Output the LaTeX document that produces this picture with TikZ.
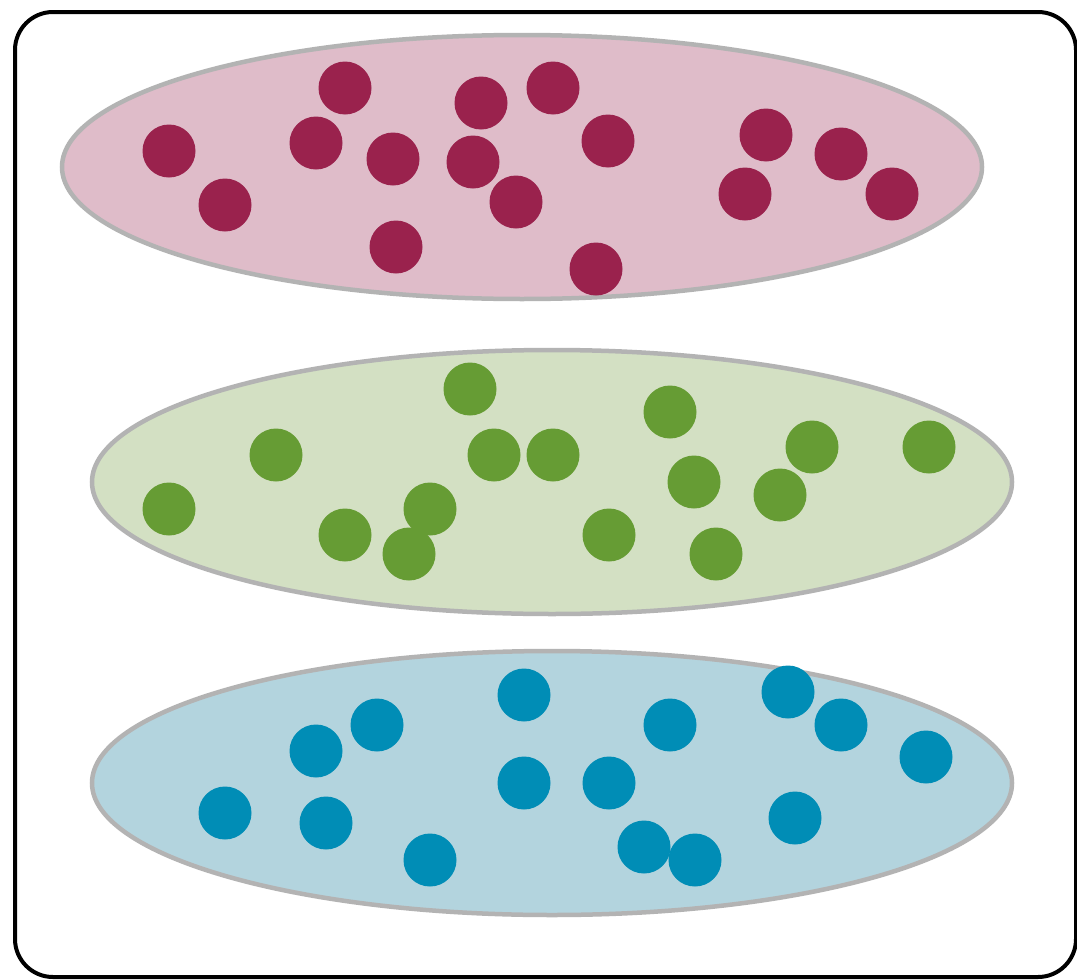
\documentclass[tikz,border=0pt]{standalone}
\definecolor{pinkfill}{HTML}{DFBCC9}
\definecolor{pinkdot}{HTML}{9A224D}
\definecolor{greenfill}{HTML}{D3E0C3}
\definecolor{greendot}{HTML}{669C34}
\definecolor{bluefill}{HTML}{B3D4DE}
\definecolor{bluedot}{HTML}{008DB6}
\definecolor{rimgray}{HTML}{B3B3B3}
\begin{document}
\begin{tikzpicture}[x=1pt,y=-1pt,
  group/.style={draw=rimgray,line width=4.5pt},
  dot/.style={circle,minimum size=53pt,inner sep=0pt}]
\useasboundingbox (0,0) rectangle (1077,980);
\fill[white] (0,0) rectangle (1077,980);
\draw[line width=4pt,rounded corners=38pt] (15,12) rectangle (1076,977);
\draw[group,fill=pinkfill] (522,167) ellipse [x radius=460, y radius=132];
\draw[group,fill=greenfill] (552,482) ellipse [x radius=460, y radius=132];
\draw[group,fill=bluefill] (552,783) ellipse [x radius=460, y radius=132];
\foreach \x/\y [count=\i] in {345/88,481/103,553/88,169/151,316/143,393/159,473/162,608/141,766/135,841/154,892/194,745/194,225/205,516/202,396/247,596/269}
  \node[dot,fill=pinkdot] (p\i) at (\x,\y) {};
\foreach \x/\y [count=\i] in {470/389,670/412,276/455,494/455,553/455,812/447,929/447,169/509,430/509,694/482,780/495,345/535,409/554,609/535,716/554}
  \node[dot,fill=greendot] (g\i) at (\x,\y) {};
\foreach \x/\y [count=\i] in {524/695,788/692,377/725,670/725,841/725,316/751,926/757,524/783,609/783,225/813,326/823,795/818,430/860,644/847,695/860}
  \node[dot,fill=bluedot] (b\i) at (\x,\y) {};
\end{tikzpicture}
\end{document}
